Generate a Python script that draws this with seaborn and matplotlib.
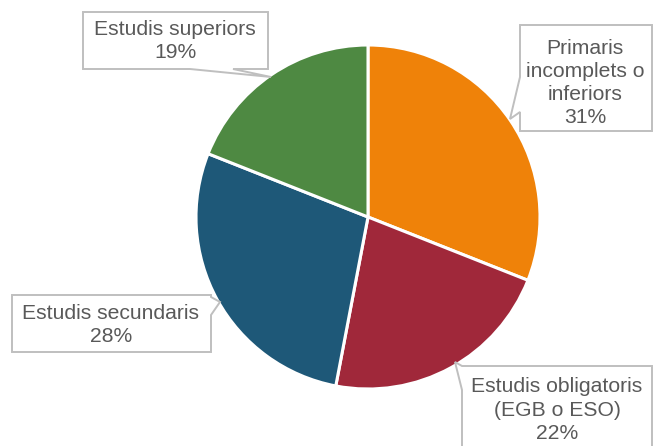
import matplotlib
matplotlib.use("Agg")
import matplotlib.pyplot as plt
import seaborn as sns
from matplotlib.patches import Polygon

sns.set_theme(style="white")
plt.rcParams['font.family'] = ['Liberation Sans', 'DejaVu Sans']

categories = ["Primaris\nincomplets o\ninferiors", "Estudis obligatoris\n(EGB o ESO)",
              "Estudis secundaris", "Estudis superiors"]
values = [31, 22, 28, 19]
colors = ["#EF8209", "#A0283A", "#1E5878", "#4E8942"]

W, H = 653, 446
fig = plt.figure(figsize=(W / 100, H / 100), dpi=100)
ax = fig.add_axes([0, 0, 1, 1])

cx, cy, r = 368, H - 217, 172
ax.pie(values, colors=colors, startangle=90, counterclock=False,
       center=(cx, cy), radius=r, frame=True,
       wedgeprops=dict(edgecolor='white', linewidth=2.2))
ax.set_xlim(0, W)
ax.set_ylim(0, H)
ax.set_aspect('equal')
ax.axis('off')

# callout outlines in image px (x, y from top)
callouts = [
    [(520, 25), (652, 25), (652, 131), (520, 131), (520, 112), (510, 119), (520, 77)],
    [(462, 366), (652, 366), (652, 450), (462, 450), (462, 390), (455, 362)],
    [(12, 295), (211, 295), (211, 297), (220, 302), (211, 315), (211, 352), (12, 352)],
    [(83, 12), (268, 12), (268, 69), (233, 69), (271, 77), (190, 69), (83, 69)],
]
text_pos = [(585, 83), (557, 410), (111, 325), (175, 41)]
texts = [f"{c}\n{v}%" for c, v in zip(categories, values)]
edge = "#BFBFBF"
tc = "#595959"
for pts, (tx, ty), t in zip(callouts, text_pos, texts):
    ax.add_patch(Polygon([(x, H - y) for x, y in pts], closed=True, facecolor='white',
                         edgecolor=edge, linewidth=1.4, zorder=5, clip_on=False))
    ax.text(tx, H - ty, t, ha='center', va='center', fontsize=15.2, color=tc, zorder=6,
            linespacing=1.27)

fig.savefig("out.png", dpi=100)
